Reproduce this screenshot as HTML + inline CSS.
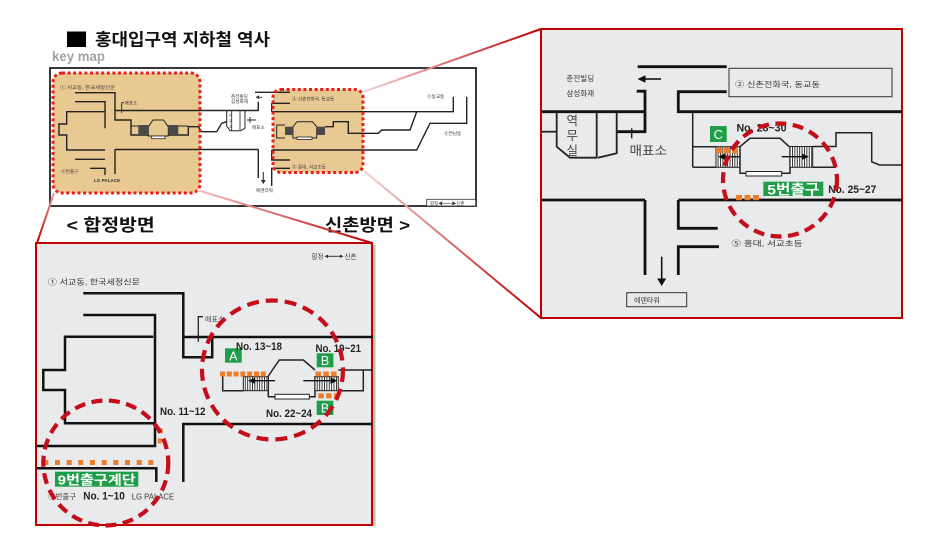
<!DOCTYPE html>
<html><head><meta charset="utf-8">
<style>
html,body{margin:0;padding:0;background:#fff;}
svg{display:block;}
text{font-family:"Liberation Sans","Noto Sans CJK KR",sans-serif;}
</style></head><body>
<svg width="936" height="538" viewBox="0 0 936 538" xmlns="http://www.w3.org/2000/svg">
<defs>
  <linearGradient id="g1" gradientUnits="userSpaceOnUse" x1="363" y1="92" x2="541" y2="29">
    <stop offset="0" stop-color="#f4d6d6"/><stop offset="1" stop-color="#c00000"/></linearGradient>
  <linearGradient id="g2" gradientUnits="userSpaceOnUse" x1="363" y1="170" x2="541" y2="318">
    <stop offset="0" stop-color="#f4d6d6"/><stop offset="1" stop-color="#c00000"/></linearGradient>
  <linearGradient id="g3" gradientUnits="userSpaceOnUse" x1="197" y1="190" x2="372" y2="243">
    <stop offset="0" stop-color="#f0c4c4"/><stop offset="1" stop-color="#c00000"/></linearGradient>
  <linearGradient id="g4" gradientUnits="userSpaceOnUse" x1="54" y1="193" x2="37" y2="243">
    <stop offset="0" stop-color="#e8a0a0"/><stop offset="1" stop-color="#c00000"/></linearGradient>
  <pattern id="hatch" width="2.4" height="20" patternUnits="userSpaceOnUse">
    <rect width="2.4" height="20" fill="#fff"/><rect x="0" y="0" width="0.9" height="20" fill="#222"/></pattern>
</defs>

<!-- Title -->
<rect x="67" y="31.5" width="19" height="15.5" fill="#000"/>
<text x="95" y="45.5" font-size="17" font-weight="bold" fill="#111" textLength="175" lengthAdjust="spacingAndGlyphs">홍대입구역 지하철 역사</text>
<text x="52" y="61" font-size="13.5" font-weight="bold" fill="#a3a3a3" textLength="53" lengthAdjust="spacingAndGlyphs">key map</text>

<!-- Key map frame -->
<rect x="50" y="68" width="426" height="138" fill="#fff" stroke="#222" stroke-width="1.8"/>
<rect x="53" y="73" width="147" height="120" rx="9" fill="#e9c992"/>
<rect x="273" y="89.5" width="90" height="83" rx="8" fill="#e9c992"/>

<g fill="none" stroke="#222" stroke-width="1.4">
  <path d="M75,92.7 H115 V111"/>
  <path d="M75,101.7 H105 V128.3"/>
  <path d="M105,111.7 H66.7 V124 H59 V135 H66.7 V150 H105"/>
  <path d="M75,159.3 H105"/>
  <path d="M90,168.3 H105 V175"/>
  <path d="M115,110.5 H258.5"/>
  <path d="M115,149.5 H258.5"/>
  <path d="M115,149.5 V174"/>
  <path d="M121.7,113 V102.7 H124" stroke-width="0.9"/>
  <path d="M115,111 V120 H131 V135 H148.3"/>
  <path d="M168.3,135 H188.3 V126.7 H198.3 L201.7,131.7 H216.7 L221.7,123.3 L226.7,121.7"/>
  <path d="M131,126 H138.3 M178.3,126 H188.3" stroke-width="0.9"/>
  <path d="M148.3,126.7 L153,120 H163.5 L168.3,126.7 V136 H148.3 Z" stroke-width="1"/>
  <rect x="151.7" y="136" width="13.3" height="2.7" fill="#fff" stroke-width="0.8"/>
  <path d="M226.7,111 V126 L230,130.7 H241 L245,128 V111" stroke-width="1"/>
  <path d="M231.7,111 V130.7 M240,111 V130" stroke-width="0.8"/>
  <path d="M250,117 V123 M247,120 H256" stroke-width="0.9"/>
  <path d="M258.3,111 V101.7"/>
  <path d="M255,92.3 H290"/>
  <path d="M258.3,149.5 V178"/>
  <path d="M263.3,172 V180" stroke-width="1"/>
  <path d="M271.7,103.3 V111.7 M271.7,103.3 H290"/>
  <path d="M271.7,111.7 H453.3 V96.7"/>
  <path d="M466.7,96.7 V123.3 H430 L416.7,150 H271.7"/>
  <path d="M416.7,111.7 L410,130 H381.7 L378.3,133.3 H348.3 V121.7 H333.3 V126.7 H325"/>
  <path d="M276.7,125 V138 H285 M276.7,125 H285" stroke-width="1"/>
  <path d="M293,126.7 L297,121.7 H312.5 L316.7,126.7 V138 H293 Z" stroke-width="1"/>
  <rect x="297" y="137" width="15" height="2.5" fill="#fff" stroke-width="0.8"/>
  <path d="M271.7,150 V160 H290 M271.7,186 V168.3 H290"/>
</g>
<rect x="138.3" y="125" width="10" height="9" fill="#4a4a4a"/>
<rect x="168.3" y="125" width="10" height="9" fill="#4a4a4a"/>
<rect x="285" y="126.7" width="8.3" height="8.3" fill="#4a4a4a"/>
<rect x="316.7" y="126.7" width="8.3" height="8.3" fill="#4a4a4a"/>
<polygon points="260.8,180 265.8,180 263.3,184" fill="#333"/>
<polygon points="255.5,97.3 259,95.3 259,99.3" fill="#333"/>
<path d="M259,97.3 H262" stroke="#333" stroke-width="0.9"/>

<g font-size="4.6" fill="#333">
  <text x="60" y="89" textLength="55" lengthAdjust="spacingAndGlyphs">① 서교동, 한국세정신문</text>
  <text x="124.5" y="104.5">매표소</text>
  <text x="61" y="173">⑨번출구</text>
  <text x="94" y="182" font-weight="bold">LG PALACE</text>
  <text x="231" y="98">춘전빌딩</text>
  <text x="231" y="103">삼성화재</text>
  <text x="252" y="129">매표소</text>
  <text x="229" y="117" font-size="3.6">역</text>
  <text x="229" y="122" font-size="3.6">무</text>
  <text x="229" y="127.5" font-size="3.6">실</text>
  <text x="256" y="192">에덴타워</text>
  <text x="292" y="100.5">② 신촌전화국, 동교동</text>
  <text x="292" y="168.5">⑤ 홍대, 서교초등</text>
  <text x="427" y="98">③동교동</text>
  <text x="444" y="135">④연남동</text>
</g>
<rect x="426.7" y="199.3" width="49" height="6.7" fill="#fff" stroke="#333" stroke-width="0.8"/>
<text x="430" y="204.8" font-size="4.5" fill="#333">합정◀━━▶신촌</text>

<rect x="53" y="73" width="147" height="120" rx="9" fill="none" stroke="#e8201c" stroke-width="3" stroke-dasharray="3 2.6"/>
<rect x="273" y="89.5" width="90" height="83" rx="8" fill="none" stroke="#e8201c" stroke-width="3" stroke-dasharray="3 2.6"/>

<text x="66.7" y="231" font-size="17" font-weight="bold" fill="#111" textLength="88" lengthAdjust="spacingAndGlyphs">&lt; 합정방면</text>
<text x="325" y="231" font-size="17" font-weight="bold" fill="#111" textLength="85" lengthAdjust="spacingAndGlyphs">신촌방면 &gt;</text>

<line x1="363" y1="92" x2="541" y2="29" stroke="url(#g1)" stroke-width="2"/>
<line x1="363" y1="170" x2="541" y2="318" stroke="url(#g2)" stroke-width="2"/>
<line x1="197" y1="190" x2="372" y2="243" stroke="url(#g3)" stroke-width="2"/>
<line x1="54" y1="193" x2="37" y2="243" stroke="url(#g4)" stroke-width="2"/>

<!-- RIGHT PANEL -->
<rect x="541" y="29" width="361" height="289" fill="#e9eaec" stroke="#c00000" stroke-width="2"/>
<g fill="none" stroke="#111" stroke-width="2.8">
  <path d="M637.7,66.7 H726.7"/>
  <path d="M636.7,91.2 H645 V131.7 H616.7"/>
  <path d="M541.7,111.7 H645"/>
  <path d="M678.3,91.7 H726.7 M678.3,90.3 V111.7 H902"/>
  <path d="M541.7,200 H645 M678.3,200 H902"/>
  <path d="M645,200 V275"/>
  <path d="M678.3,200 V228.3 H717.7"/>
  <path d="M719,246.7 H678.3 V275"/>
</g>
<g fill="none" stroke="#222" stroke-width="1.8">
  <path d="M541.7,131.7 H556.7"/>
  <path d="M556.7,111.7 V146.7 L570,157.7 H596.7 V111.7"/>
  <path d="M616.7,111.7 V153.3 L598,157.7"/>
  <path d="M631.7,128.3 V138.3" stroke-width="1.5"/>
</g>
<rect x="729" y="68.3" width="163" height="28.4" fill="none" stroke="#333" stroke-width="1"/>
<path d="M645,79 H661" stroke="#111" stroke-width="1.6"/>
<polygon points="637.5,79 645.5,75.3 645.5,82.7" fill="#111"/>
<path d="M661.7,256.7 V279" stroke="#111" stroke-width="1.6"/>
<polygon points="657.2,278.5 666.2,278.5 661.7,286" fill="#111"/>
<rect x="626.7" y="292.7" width="60" height="14" fill="none" stroke="#333" stroke-width="1"/>

<g fill="none" stroke="#222" stroke-width="1.5">
  <path d="M692.7,111.7 V167.3"/>
  <path d="M692.7,146.7 H716 M692.7,167.3 H716"/>
  <path d="M740,146.7 L750,138.3 H780 L789.3,146.7"/>
  <path d="M740,146.7 V173.3 H790 V146.7"/>
  <path d="M812.7,146.5 H836 V132.7 H871.7 V161.7 L879.3,165 H902"/>
  <path d="M812.7,167.3 H836"/>
</g>
<rect x="716" y="146.7" width="24" height="20.6" fill="url(#hatch)" stroke="#222" stroke-width="1"/>
<rect x="790" y="146.5" width="22.7" height="20.8" fill="url(#hatch)" stroke="#222" stroke-width="1"/>
<rect x="746" y="171.5" width="35.7" height="4.5" fill="#fff" stroke="#222" stroke-width="1"/>
<path d="M724,156.7 H740" stroke="#111" stroke-width="1.4"/>
<polygon points="718,156.7 725,153.5 725,159.9" fill="#111"/>
<path d="M781.7,156.7 H803" stroke="#111" stroke-width="1.4"/>
<polygon points="809,156.7 802,153.5 802,159.9" fill="#111"/>

<g fill="#ee7d2b">
  <rect x="716" y="147.7" width="6" height="5.6"/><rect x="724" y="147.7" width="6" height="5.6"/><rect x="732" y="147.7" width="6" height="5.6"/>
  <rect x="736" y="195" width="6" height="5.2"/><rect x="744.5" y="195" width="6" height="5.2"/><rect x="753" y="195" width="6" height="5.2"/>
</g>
<rect x="710" y="126" width="16.7" height="16" fill="#1e9e49"/>
<text x="718.3" y="139" font-size="13" fill="#fff" text-anchor="middle">C</text>
<text x="736.5" y="131.5" font-size="11" font-weight="bold" fill="#222" textLength="50" lengthAdjust="spacingAndGlyphs">No. 28~30</text>
<rect x="763.3" y="181.7" width="60" height="14.3" fill="#1e9e49"/>
<text x="793.3" y="194.3" font-size="14" font-weight="bold" fill="#fff" text-anchor="middle" textLength="52" lengthAdjust="spacingAndGlyphs">5번출구</text>
<text x="828.3" y="193" font-size="11" font-weight="bold" fill="#222" textLength="48" lengthAdjust="spacingAndGlyphs">No. 25~27</text>

<g font-size="7.5" fill="#333">
  <text x="566.5" y="81">춘전빌딩</text>
  <text x="566.5" y="96">삼성화재</text>
  <text x="735" y="87" textLength="85" lengthAdjust="spacingAndGlyphs">②  신촌전화국, 동교동</text>
  <text x="731.5" y="246" textLength="71" lengthAdjust="spacingAndGlyphs">⑤  홍대, 서교초등</text>
  <text x="634" y="302.5" font-size="7">에덴타워</text>
</g>
<g font-size="12.5" fill="#444">
  <text x="566.5" y="125">역</text>
  <text x="566.5" y="140">무</text>
  <text x="566.5" y="155">실</text>
  <text x="629.5" y="155" textLength="37.5" lengthAdjust="spacingAndGlyphs">매표소</text>
</g>
<ellipse cx="780" cy="180" rx="57" ry="56.5" fill="none" stroke="#c40f1b" stroke-width="4.2" stroke-dasharray="11 6.5"/>

<!-- BOTTOM-LEFT PANEL -->
<rect x="372" y="245" width="3.5" height="281" fill="#bdbdbd"/>
<rect x="36" y="243" width="336" height="282" fill="#e9eaec" stroke="#c00000" stroke-width="2"/>
<text x="311.5" y="258.5" font-size="6.5" fill="#333">합정</text>
<path d="M326,256.3 H342" stroke="#333" stroke-width="1"/>
<polygon points="324.5,256.3 328,254.5 328,258.1" fill="#333"/>
<polygon points="343.5,256.3 340,254.5 340,258.1" fill="#333"/>
<text x="344.5" y="258.5" font-size="6.5" fill="#333">신촌</text>
<text x="48" y="284.5" font-size="7.5" fill="#333" textLength="92" lengthAdjust="spacingAndGlyphs">①  서교동, 한국세정신문</text>

<g fill="none" stroke="#111" stroke-width="2.5">
  <path d="M83.3,293.3 H183.3 V357.3 H212.2 V337"/>
  <path d="M183.3,337 H373"/>
  <path d="M83.3,315 H155 V446 H36.7"/>
  <path d="M153.3,336.7 H65 V370 H43.3 V390 H65 V423.3 H155"/>
  <path d="M36.7,468.3 H156.3 V482"/>
  <path d="M183.3,482 V424 H373"/>
</g>
<path d="M198.3,341.7 V316.7 H203" fill="none" stroke="#222" stroke-width="1.3"/>
<text x="205" y="321.5" font-size="7" fill="#444">매표소</text>

<g fill="none" stroke="#222" stroke-width="1.5">
  <path d="M222.7,376 V390.7 H243.3"/>
  <path d="M268.3,376 L279.3,360 H303.3 L315,370"/>
  <path d="M268.3,376 V396.7 H315 V376"/>
  <path d="M338.3,370 H373"/>
  <path d="M363.3,370 V390.7 H338.3"/>
</g>
<rect x="243.3" y="376.7" width="25" height="14" fill="url(#hatch)" stroke="#222" stroke-width="1"/>
<rect x="315" y="376.7" width="23.3" height="14" fill="url(#hatch)" stroke="#222" stroke-width="1"/>
<rect x="275" y="394.3" width="34.3" height="4.7" fill="#fff" stroke="#222" stroke-width="1"/>
<path d="M254,380.7 H275" stroke="#111" stroke-width="1.4"/>
<polygon points="248,380.7 255,377.5 255,383.9" fill="#111"/>
<path d="M303.3,380.7 H331" stroke="#111" stroke-width="1.4"/>
<polygon points="337.5,380.7 330.5,377.5 330.5,383.9" fill="#111"/>

<g fill="#ee7d2b">
  <rect x="220" y="371.5" width="5" height="5"/><rect x="226.8" y="371.5" width="5" height="5"/><rect x="233.6" y="371.5" width="5" height="5"/>
  <rect x="240.4" y="371.5" width="5" height="5"/><rect x="247.2" y="371.5" width="5" height="5"/><rect x="254" y="371.5" width="5" height="5"/><rect x="260.8" y="371.5" width="5" height="5"/>
  <rect x="315.5" y="371.5" width="5.5" height="5"/><rect x="323.3" y="371.5" width="5.5" height="5"/><rect x="331.1" y="371.5" width="5.5" height="5"/>
  <rect x="318.3" y="393.3" width="5.5" height="5"/><rect x="326.1" y="393.3" width="5.5" height="5"/><rect x="333.9" y="393.3" width="5.5" height="5"/>
  <rect x="43.3" y="460" width="5" height="5"/><rect x="55" y="460" width="5" height="5"/><rect x="66.7" y="460" width="5" height="5"/>
  <rect x="78.3" y="460" width="5" height="5"/><rect x="90" y="460" width="5" height="5"/><rect x="101.7" y="460" width="5" height="5"/>
  <rect x="113.3" y="460" width="5" height="5"/><rect x="125" y="460" width="5" height="5"/><rect x="136.7" y="460" width="5" height="5"/>
  <rect x="148.3" y="460" width="5" height="5"/>
  <rect x="157.7" y="428.3" width="5" height="5"/><rect x="157.7" y="438.3" width="4" height="5"/>
</g>

<rect x="225" y="348.3" width="16.7" height="14.4" fill="#1e9e49"/>
<text x="233.3" y="360.3" font-size="12.5" fill="#fff" text-anchor="middle">A</text>
<rect x="316.7" y="353.3" width="16.7" height="14" fill="#1e9e49"/>
<text x="325" y="365" font-size="12.5" fill="#fff" text-anchor="middle">B</text>
<rect x="316.7" y="400.7" width="16.7" height="14.3" fill="#1e9e49"/>
<text x="325" y="412.5" font-size="12.5" fill="#fff" text-anchor="middle">B</text>

<g font-size="11" font-weight="bold" fill="#222">
  <text x="236" y="350" textLength="46" lengthAdjust="spacingAndGlyphs">No. 13~18</text>
  <text x="315.5" y="352" textLength="45.5" lengthAdjust="spacingAndGlyphs">No. 19~21</text>
  <text x="266" y="417" textLength="46" lengthAdjust="spacingAndGlyphs">No. 22~24</text>
  <text x="160" y="415" textLength="45.5" lengthAdjust="spacingAndGlyphs">No. 11~12</text>
  <text x="83.3" y="499.5" textLength="41.5" lengthAdjust="spacingAndGlyphs">No. 1~10</text>
</g>
<rect x="55" y="471.7" width="83.3" height="15" fill="#1e9e49"/>
<text x="96.7" y="484.5" font-size="13" font-weight="bold" fill="#fff" text-anchor="middle" textLength="78" lengthAdjust="spacingAndGlyphs">9번출구계단</text>
<text x="48" y="499" font-size="7.5" fill="#444">⑨번출구</text>
<text x="131.7" y="499.5" font-size="8" fill="#333" textLength="42.5" lengthAdjust="spacingAndGlyphs">LG PALACE</text>

<ellipse cx="272.5" cy="370" rx="70.5" ry="69.5" fill="none" stroke="#c40f1b" stroke-width="4.2" stroke-dasharray="12 7"/>
<ellipse cx="105.8" cy="463" rx="62.5" ry="62.5" fill="none" stroke="#c40f1b" stroke-width="4.2" stroke-dasharray="11 6.5"/>
</svg>
</body></html>
